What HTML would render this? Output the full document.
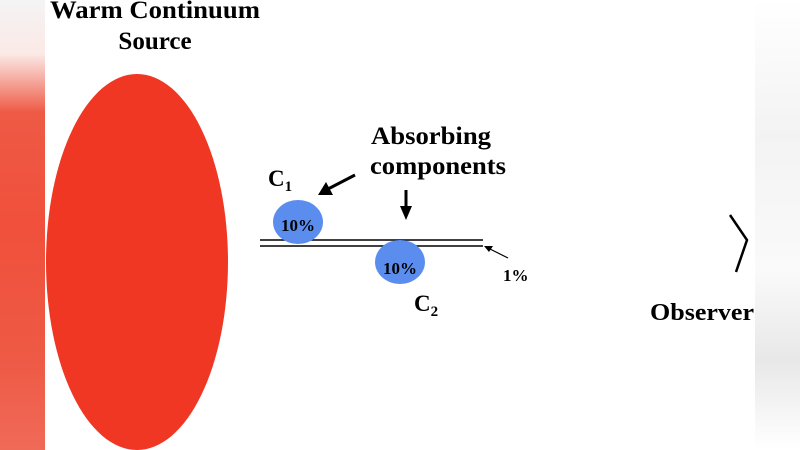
<!DOCTYPE html>
<html><head><style>
body{margin:0;width:800px;height:450px;overflow:hidden;background:#fff}
text{font-family:"Liberation Serif",serif;font-weight:bold}
</style></head><body>
<svg width="800" height="450" xmlns="http://www.w3.org/2000/svg" style="position:absolute;left:0;top:0">
<defs>
<linearGradient id="lg" x1="0" y1="0" x2="0" y2="1">
<stop offset="0" stop-color="#f4f4f4"/><stop offset="0.12" stop-color="#fbe9e6"/><stop offset="0.25" stop-color="#ee5a45"/><stop offset="0.5" stop-color="#f0503c"/><stop offset="0.8" stop-color="#ee5a45"/><stop offset="1" stop-color="#f06a58"/>
</linearGradient>
<linearGradient id="rg" x1="0" y1="0" x2="0" y2="1">
<stop offset="0" stop-color="#fff"/><stop offset="0.3" stop-color="#f3f3f3"/><stop offset="0.6" stop-color="#fafafa"/><stop offset="0.8" stop-color="#e8e8e8"/><stop offset="1" stop-color="#fff"/>
</linearGradient>
</defs>
<rect x="0" y="0" width="45" height="450" fill="url(#lg)"/>
<rect x="755" y="0" width="45" height="450" fill="url(#rg)"/>
<ellipse cx="137" cy="262" rx="91" ry="188" fill="#ef3723"/>
<g fill="#000" text-anchor="middle">
<text x="155" y="18" font-size="25" textLength="210" lengthAdjust="spacingAndGlyphs">Warm Continuum</text>
<text x="155" y="49" font-size="25">Source</text>
<text x="431" y="144" font-size="25" textLength="120" lengthAdjust="spacingAndGlyphs">Absorbing</text>
<text x="438" y="174" font-size="25" textLength="136" lengthAdjust="spacingAndGlyphs">components</text>
<text x="702" y="320" font-size="24" textLength="104" lengthAdjust="spacingAndGlyphs">Observer</text>
</g>
<line x1="260" y1="240" x2="483" y2="240" stroke="#000" stroke-width="1.5"/>
<line x1="260" y1="246" x2="483" y2="246" stroke="#000" stroke-width="1.5"/>
<ellipse cx="298" cy="222" rx="25" ry="22" fill="#5b8def"/>
<ellipse cx="400" cy="262" rx="25" ry="22" fill="#5b8def"/>
<g fill="#000">
<text x="281" y="231" font-size="17">10%</text>
<text x="383" y="274" font-size="17">10%</text>
<text x="503" y="281" font-size="17">1%</text>
<text x="268" y="186" font-size="23">C<tspan font-size="15" dy="5">1</tspan></text>
<text x="414" y="311" font-size="23">C<tspan font-size="15" dy="5">2</tspan></text>
</g>
<line x1="355" y1="175" x2="328" y2="189" stroke="#000" stroke-width="3"/>
<polygon points="318,195 326,182 333,195" fill="#000"/>
<line x1="406" y1="190" x2="406" y2="208" stroke="#000" stroke-width="3"/>
<polygon points="400,206 412,206 406,220" fill="#000"/>
<line x1="508" y1="258" x2="490" y2="249" stroke="#000" stroke-width="1.2"/>
<polygon points="484,246 493,246 489,252" fill="#000"/>
<polyline points="730,215 747,240 736,272" fill="none" stroke="#000" stroke-width="2.5"/>
</svg>
</body></html>
